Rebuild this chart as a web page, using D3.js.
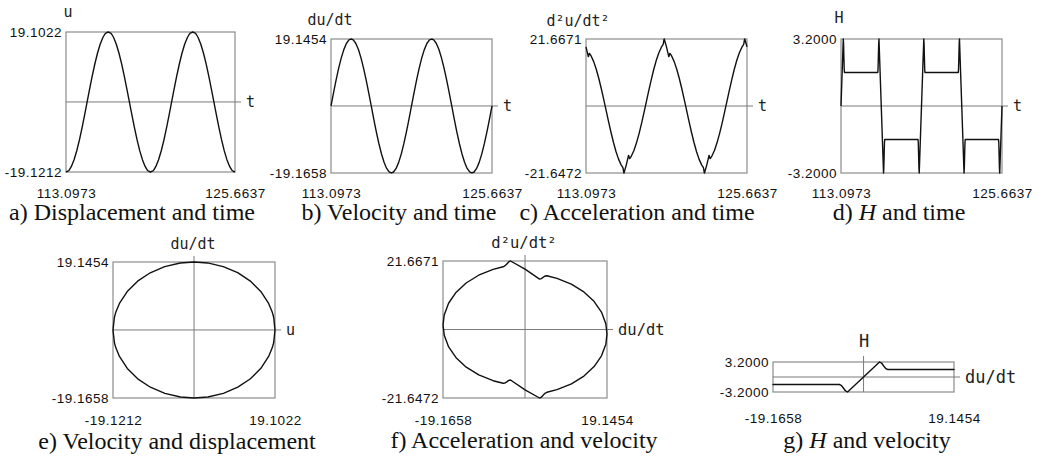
<!DOCTYPE html>
<html>
<head>
<meta charset="utf-8">
<script src="https://cdnjs.cloudflare.com/ajax/libs/d3/7.8.5/d3.min.js"></script>
<style>
  body { margin: 0; background: #fff; }
  svg { display: block; }
</style>
</head>
<body>
<svg id="chart" width="1038" height="457"></svg>
<script>
// Sample times (denser around the zero crossings of the velocity)
const tValues = [
  113.0973, 113.2753, 113.2973, 113.3223, 113.3473, 113.3673, 113.4973, 113.6973, 113.8973, 114.0973, 114.2973, 114.4973, 114.6681, 114.8373, 115.0373, 115.2373, 115.4373, 115.6373, 115.8389, 115.9689, 115.9889, 116.0139, 116.0389, 116.0609,
  116.2389, 116.4169, 116.4389, 116.4639, 116.4889, 116.5089, 116.6389, 116.8389, 117.0389, 117.2389, 117.4389, 117.6389, 117.8097, 117.9789, 118.1789, 118.3789, 118.5789, 118.7789, 118.9805, 119.1105, 119.1305, 119.1555, 119.1805, 119.2025,
  119.3805, 119.5585, 119.5805, 119.6055, 119.6305, 119.6505, 119.7805, 119.9805, 120.1805, 120.3805, 120.5805, 120.7805, 120.9513, 121.1205, 121.3205, 121.5205, 121.7205, 121.9205, 122.1221, 122.2521, 122.2721, 122.2971, 122.3221, 122.3441,
  122.5221, 122.7001, 122.7221, 122.7471, 122.7721, 122.7921, 122.9221, 123.1221, 123.3221, 123.5221, 123.7221, 123.9221, 124.0929, 124.2621, 124.4621, 124.6621, 124.8621, 125.0621, 125.2637, 125.3937, 125.4137, 125.4387, 125.4637, 125.4857,
  125.6637
];

// Displacement u
const uValues = [
  -19.12, -18.81, -18.73, -18.63, -18.52, -18.42, -17.60, -15.77, -13.31, -10.33, -6.93, -3.25, 0.00, 3.21, 6.89, 10.30, 13.29, 15.75, 17.60, 18.42, 18.52, 18.63, 18.73, 18.81,
  19.10, 18.81, 18.73, 18.63, 18.52, 18.42, 17.60, 15.77, 13.31, 10.33, 6.93, 3.25, 0.00, -3.21, -6.89, -10.30, -13.29, -15.75, -17.60, -18.42, -18.52, -18.63, -18.73, -18.81,
  -19.12, -18.81, -18.73, -18.63, -18.52, -18.42, -17.60, -15.77, -13.31, -10.33, -6.93, -3.25, 0.00, 3.21, 6.89, 10.30, 13.29, 15.75, 17.60, 18.42, 18.52, 18.63, 18.73, 18.81,
  19.10, 18.81, 18.73, 18.63, 18.52, 18.42, 17.60, 15.77, 13.31, 10.33, 6.93, 3.25, 0.00, -3.21, -6.89, -10.30, -13.29, -15.75, -17.60, -18.42, -18.52, -18.63, -18.73, -18.81,
  -19.12
];

// Velocity du/dt
const vValues = [
  0.00, 3.39, 3.81, 4.27, 4.74, 5.11, 7.46, 10.81, 13.74, 16.11, 17.85, 18.87, 19.14, 18.88, 17.86, 16.13, 13.76, 10.84, 7.46, 5.11, 4.74, 4.27, 3.81, 3.39,
  0.00, -3.39, -3.81, -4.27, -4.74, -5.11, -7.46, -10.81, -13.74, -16.11, -17.85, -18.87, -19.16, -18.88, -17.86, -16.13, -13.76, -10.84, -7.46, -5.11, -4.74, -4.27, -3.81, -3.39,
  0.00, 3.39, 3.81, 4.27, 4.74, 5.11, 7.46, 10.81, 13.74, 16.11, 17.85, 18.87, 19.14, 18.88, 17.86, 16.13, 13.76, 10.84, 7.46, 5.11, 4.74, 4.27, 3.81, 3.39,
  0.00, -3.39, -3.81, -4.27, -4.74, -5.11, -7.46, -10.81, -13.74, -16.11, -17.85, -18.87, -19.16, -18.88, -17.86, -16.13, -13.76, -10.84, -7.46, -5.11, -4.74, -4.27, -3.81, -3.39,
  0.00
];

// Acceleration d2u/dt2
const aValues = [
  19.12, 15.96, 16.08, 16.54, 16.94, 17.00, 16.18, 14.35, 11.89, 8.91, 5.51, 1.83, -1.42, -4.63, -8.31, -11.72, -14.71, -17.17, -19.02, -19.84, -20.10, -20.72, -21.38, -21.65,
  -19.10, -15.96, -16.08, -16.54, -16.94, -17.00, -16.18, -14.35, -11.89, -8.91, -5.51, -1.83, 1.42, 4.63, 8.31, 11.72, 14.71, 17.17, 19.02, 19.84, 20.10, 20.72, 21.38, 21.67,
  19.12, 15.96, 16.08, 16.54, 16.94, 17.00, 16.18, 14.35, 11.89, 8.91, 5.51, 1.83, -1.42, -4.63, -8.31, -11.72, -14.71, -17.17, -19.02, -19.84, -20.10, -20.72, -21.38, -21.65,
  -19.10, -15.96, -16.08, -16.54, -16.94, -17.00, -16.18, -14.35, -11.89, -8.91, -5.51, -1.83, 1.42, 4.63, 8.31, 11.72, 14.71, 17.17, 19.02, 19.84, 20.10, 20.72, 21.38, 21.67,
  19.12
];

// H
const hValues = [
  0.00, 3.20, 2.98, 2.35, 1.77, 1.60, 1.60, 1.60, 1.60, 1.60, 1.60, 1.60, 1.60, 1.60, 1.60, 1.60, 1.60, 1.60, 1.60, 1.60, 1.77, 2.35, 2.98, 3.20,
  0.00, -3.20, -2.98, -2.35, -1.77, -1.60, -1.60, -1.60, -1.60, -1.60, -1.60, -1.60, -1.60, -1.60, -1.60, -1.60, -1.60, -1.60, -1.60, -1.60, -1.77, -2.35, -2.98, -3.20,
  0.00, 3.20, 2.98, 2.35, 1.77, 1.60, 1.60, 1.60, 1.60, 1.60, 1.60, 1.60, 1.60, 1.60, 1.60, 1.60, 1.60, 1.60, 1.60, 1.60, 1.77, 2.35, 2.98, 3.20,
  0.00, -3.20, -2.98, -2.35, -1.77, -1.60, -1.60, -1.60, -1.60, -1.60, -1.60, -1.60, -1.60, -1.60, -1.60, -1.60, -1.60, -1.60, -1.60, -1.60, -1.77, -2.35, -2.98, -3.20,
  0.00
];

// Axis limits, also used as the tick labels
const tLimits = [113.0973, 125.6637];
const uLimits = [-19.1212, 19.1022];
const vLimits = [-19.1658, 19.1454];
const aLimits = [-21.6472, 21.6671];
const hLimits = [-3.2000, 3.2000];

const labelFont = "'DejaVu Sans Mono', monospace";
const tickFont = "'Liberation Sans', Arial, sans-serif";
const titleFont = "'Liberation Serif', 'Times New Roman', serif";

const svg = d3.select("#chart");

// One entry per small plot: box = [left, right, top, bottom]
const panels = [
    {box: [66, 235, 32, 172], xs: tValues, ys: uValues, xDomain: tLimits, yDomain: uLimits,
     xName: "t", yName: "u", yNameX: 68, yNameY: 17, nameSize: 15, pad: 16, phase: false,
     title: [["a) Displacement and time", false]], titleX: 132, titleY: 220},
    {box: [331, 492, 39, 173], xs: tValues, ys: vValues, xDomain: tLimits, yDomain: vLimits,
     xName: "t", yName: "du/dt", yNameX: 330, yNameY: 25, nameSize: 15, pad: 15, phase: false,
     title: [["b) Velocity and time", false]], titleX: 399, titleY: 220},
    {box: [586, 747, 39, 173], xs: tValues, ys: aValues, xDomain: tLimits, yDomain: aLimits,
     xName: "t", yName: "d²u/dt²", yNameX: 578, yNameY: 26, nameSize: 15, pad: 15, phase: false,
     title: [["c) Acceleration and time", false]], titleX: 637, titleY: 220},
    {box: [841, 1002, 39, 173], xs: tValues, ys: hValues, xDomain: tLimits, yDomain: hLimits,
     xName: "t", yName: "H", yNameX: 839, yNameY: 23, nameSize: 15, pad: 15, phase: false,
     title: [["d) ", false], ["H", true], [" and time", false]], titleX: 899, titleY: 220},
    {box: [113, 275, 262, 398], xs: uValues, ys: vValues, xDomain: uLimits, yDomain: vLimits,
     xName: "u", yName: "du/dt", yNameX: 193, yNameY: 249, nameSize: 15, pad: 17, phase: true,
     title: [["e) Velocity and displacement", false]], titleX: 177, titleY: 449},
    {box: [443, 607, 261, 398], xs: vValues, ys: aValues, xDomain: vLimits, yDomain: aLimits,
     xName: "du/dt", yName: "d²u/dt²", yNameX: 524, yNameY: 248, nameSize: 15.5, pad: 17, phase: true,
     title: [["f) Acceleration and velocity", false]], titleX: 524, titleY: 448},
    {box: [773, 954, 362, 392], xs: vValues, ys: hValues, xDomain: vLimits, yDomain: hLimits,
     xName: "du/dt", yName: "H", yNameX: 864, yNameY: 347, nameSize: 17, pad: 21, phase: true,
     title: [["g) ", false], ["H", true], [" and velocity", false]], titleX: 867, titleY: 448}
];

// Plain hyphen for negatives, like the original figure
const fmt = d => d.toFixed(4);

function drawPanel(p) {
    let [left, right, top, bottom] = p.box;
    let x = d3.scaleLinear().domain(p.xDomain).range([left, right]);
    let y = d3.scaleLinear().domain(p.yDomain).range([bottom, top]);
    let g = svg.append("g");

    // Frame
    g.append("rect")
        .attr("x", left)
        .attr("y", top)
        .attr("width", right - left)
        .attr("height", bottom - top)
        .attr("fill", "none")
        .attr("stroke", "#8c8c8c")
        .attr("stroke-width", 1.2);

    // Zero line, poking a little out of the frame on the right
    g.append("line")
        .attr("x1", left)
        .attr("x2", right + 6)
        .attr("y1", y(0))
        .attr("y2", y(0))
        .attr("stroke", "#7a7a7a")
        .attr("stroke-width", 1);

    // Phase plots also get a vertical zero line
    if (p.phase) {
        g.append("line")
            .attr("x1", x(0))
            .attr("x2", x(0))
            .attr("y1", bottom)
            .attr("y2", top - 6)
            .attr("stroke", "#7a7a7a")
            .attr("stroke-width", 1);
    }

    // The curve itself
    let line = d3.line()
        .x(i => x(p.xs[i]))
        .y(i => y(p.ys[i]));

    g.append("path")
        .attr("d", line(d3.range(p.xs.length)))
        .attr("fill", "none")
        .attr("stroke", "#111")
        .attr("stroke-width", 1.4)
        .attr("stroke-linejoin", "round");

    // Limits written on the left and below
    let yAxis = g.append("g")
        .attr("transform", `translate(${left},0)`)
        .call(d3.axisLeft(y).tickValues(p.yDomain).tickFormat(fmt).tickSize(0).tickPadding(4));
    let xAxis = g.append("g")
        .attr("transform", `translate(0,${bottom})`)
        .call(d3.axisBottom(x).tickValues(p.xDomain).tickFormat(fmt).tickSize(0).tickPadding(p.pad));

    [yAxis, xAxis].forEach(a => {
        a.select(".domain").remove();
        a.attr("font-family", tickFont).attr("font-size", 13.5);
        a.selectAll("text").attr("fill", "#111").style("letter-spacing", "0.5px");
    });

    // Axis names
    g.append("text")
        .attr("x", p.yNameX)
        .attr("y", p.yNameY)
        .attr("text-anchor", "middle")
        .attr("font-family", labelFont)
        .attr("font-size", p.nameSize)
        .attr("fill", "#222")
        .text(p.yName);

    g.append("text")
        .attr("x", right + 11)
        .attr("y", y(0))
        .attr("dy", "0.35em")
        .attr("font-family", labelFont)
        .attr("font-size", p.nameSize)
        .attr("fill", "#222")
        .text(p.xName);

    // Caption under the plot
    let title = g.append("text")
        .attr("x", p.titleX)
        .attr("y", p.titleY)
        .attr("text-anchor", "middle")
        .attr("font-family", titleFont)
        .attr("font-size", 24)
        .attr("fill", "#111");

    p.title.forEach(([txt, italic]) => {
        title.append("tspan")
            .attr("font-style", italic ? "italic" : "normal")
            .text(txt);
    });
}

panels.forEach(drawPanel);
</script>
</body>
</html>
